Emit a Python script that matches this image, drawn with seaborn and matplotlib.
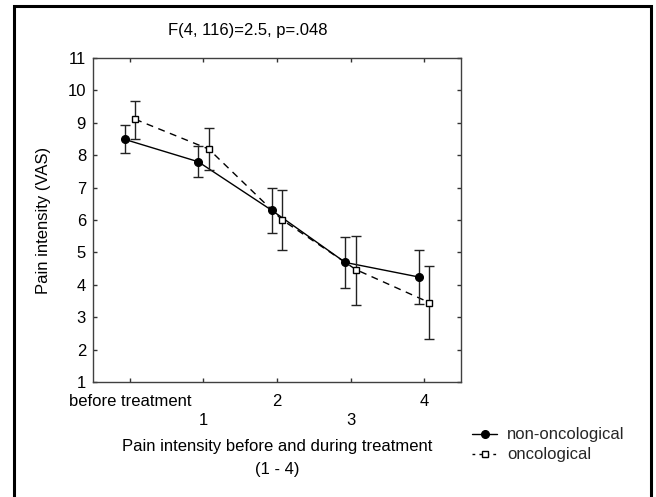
import matplotlib
matplotlib.use("Agg")
import matplotlib.pyplot as plt
import seaborn as sns
import pandas as pd
import numpy as np
from matplotlib.lines import Line2D
from matplotlib.patches import Rectangle

# ---- data ----
categories = ["before treatment", "1", "2", "3", "4"]
groups = ["non-oncological", "oncological"]
non_onc_mean = [8.49, 7.80, 6.30, 4.69, 4.24]
non_onc_low = [8.08, 7.32, 5.60, 3.90, 3.41]
non_onc_high = [8.93, 8.29, 6.98, 5.49, 5.08]
onc_mean = [9.11, 8.19, 6.00, 4.47, 3.45]
onc_low = [8.50, 7.53, 5.06, 3.38, 2.32]
onc_high = [9.67, 8.83, 6.94, 5.52, 4.59]
y_ticks = list(range(1, 12))
title_text = "F(4, 116)=2.5, p=.048"
x_label = "Pain intensity before and during treatment\n(1 - 4)"
y_label = "Pain intensity (VAS)"

sns.set_theme(style="white")
plt.rcParams["font.family"] = ["Liberation Sans", "DejaVu Sans"]
plt.rcParams["font.size"] = 12

W, H = 656, 497
fig = plt.figure(figsize=(W / 100, H / 100), dpi=100)
ax = fig.add_axes([93 / W, 1 - 382 / H, (461 - 93) / W, (382 - 58) / H])

offset = 0.072
pos = np.arange(len(categories))
rows = []
for i in range(len(categories)):
    rows.append({"x": pos[i] - offset, "y": non_onc_mean[i], "group": groups[0]})
    rows.append({"x": pos[i] + offset, "y": onc_mean[i], "group": groups[1]})
df = pd.DataFrame(rows)

sns.lineplot(data=df, x="x", y="y", style="group", color="black",
             dashes={groups[0]: "", groups[1]: (5, 4)}, linewidth=1.0,
             legend=False, ax=ax, zorder=2)

series = [
    (non_onc_mean, non_onc_low, non_onc_high, -offset, "o", "black"),
    (onc_mean, onc_low, onc_high, offset, "s", "white"),
]
for mean, lo, hi, off, mk, fc in series:
    mean = np.array(mean); lo = np.array(lo); hi = np.array(hi)
    ax.errorbar(pos + off, mean, yerr=[mean - lo, hi - mean], fmt="none",
                ecolor="#222222", elinewidth=1.0, capsize=3.5, capthick=1.0, zorder=3)
    ax.plot(pos + off, mean, ls="none", marker=mk, ms=5.5 if mk == "o" else 5,
            mfc=fc, mec="black", mew=1.0, zorder=4)

ax.set_xlim(-0.5, 4.5)
ax.set_ylim(1, 11)
ax.set_yticks(y_ticks)
ax.set_yticklabels([str(t) for t in y_ticks])
ax.set_xticks(pos)
ax.set_xticklabels([c if i % 2 == 0 else "\n" + c for i, c in enumerate(categories)],
                   linespacing=1.35)
ax.tick_params(direction="in", length=3, width=1, color="#333333",
               top=True, right=True, bottom=True, left=True, labelsize=12,
               labelcolor="black")
ax.tick_params(axis="y", pad=5)
ax.tick_params(axis="x", pad=8.5)
for s in ax.spines.values():
    s.set_visible(True)
    s.set_color("#404040")
    s.set_linewidth(1.0)
ax.set_xlabel(x_label, fontsize=12, color="black", labelpad=8, linespacing=1.65)
ax.set_ylabel("")
fig.text(44 / W, 1 - 220 / H, y_label, rotation=90, ha="center", va="center",
         fontsize=12, color="black")
fig.text(248 / W, 1 - 30 / H, title_text, ha="center", va="center", fontsize=12,
         color="black")

handles = [
    Line2D([], [], color="black", lw=1.0, ls="-", marker="o", ms=5.5, mfc="black", mec="black"),
    Line2D([], [], color="black", lw=1.0, ls=(0, (2, 3)), marker="s", ms=5, mfc="white", mec="black"),
]
fig.legend(handles, groups, loc="center left", bbox_to_anchor=(472 / W, 1 - 445 / H),
           frameon=False, fontsize=12, handlelength=1.5, handletextpad=0.6,
           labelspacing=0.3, borderpad=0, borderaxespad=0)

fig.patches.append(Rectangle((14 / W, -0.1), (651 - 14) / W, 1.1 - 6 / H,
                             transform=fig.transFigure, fill=False,
                             edgecolor="black", lw=2.2))

fig.savefig("out.png", dpi=100)
